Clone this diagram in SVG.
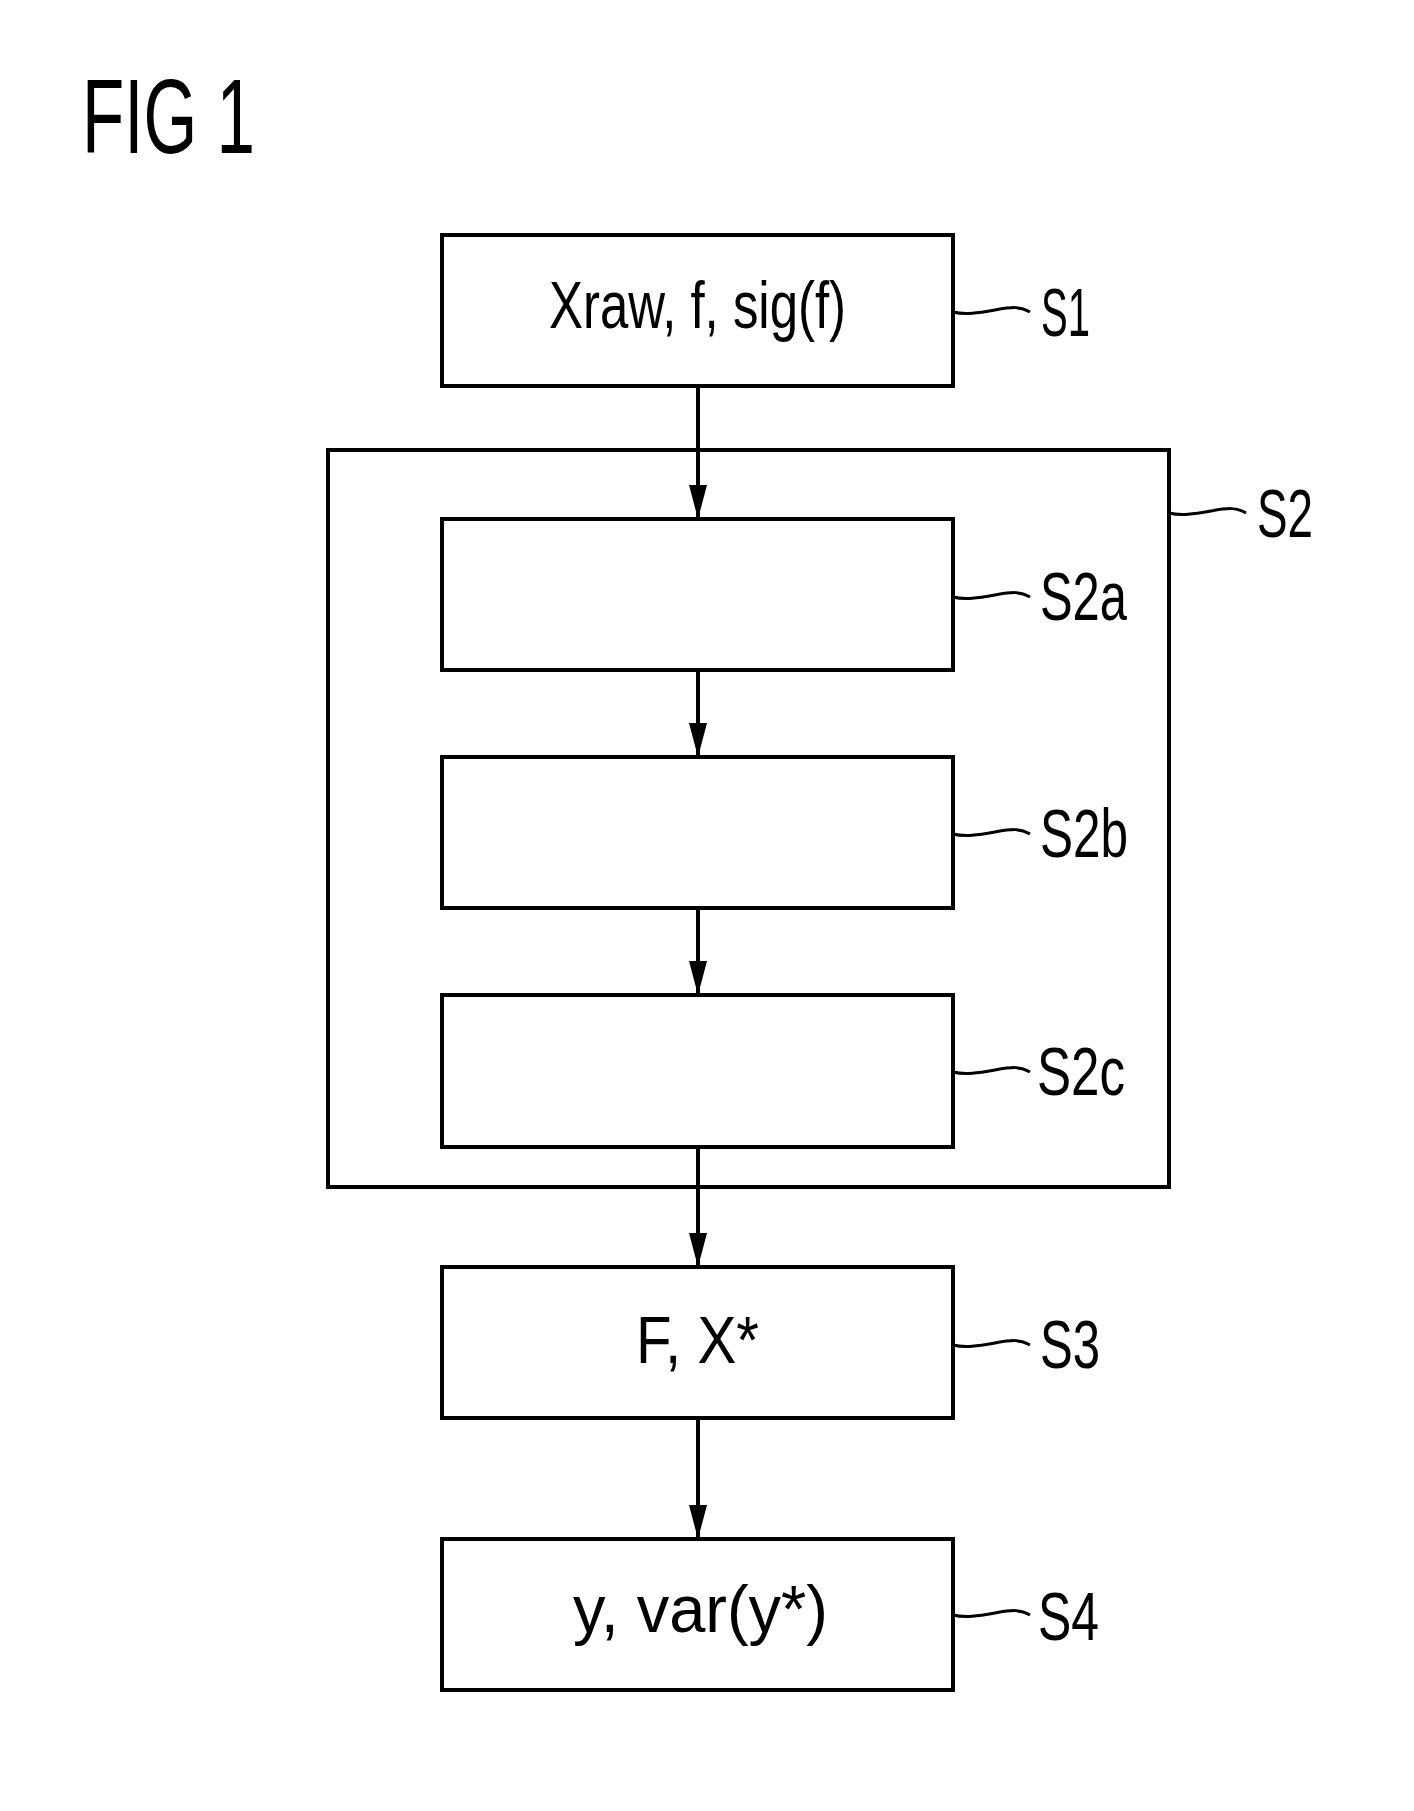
<svg xmlns="http://www.w3.org/2000/svg" width="1414" height="1811" viewBox="0 0 1414 1811">
<style>
  .box{fill:#fff;stroke:#000;stroke-width:4}
  .frame{fill:none;stroke:#000;stroke-width:4}
  .conn{stroke:#000;stroke-width:4;fill:none}
  .lead{stroke:#000;stroke-width:3;fill:none}
  .t{font-family:"Liberation Sans",Arial,sans-serif;font-size:66px;fill:#000}
  .lbl{font-family:"Liberation Sans",Arial,sans-serif;font-size:68px;fill:#000}
  .title{font-family:"Liberation Sans",Arial,sans-serif;font-size:106px;fill:#000}
</style>
<defs>
  <marker id="arr" viewBox="0 0 34 18" refX="34" refY="9" markerWidth="34" markerHeight="18" markerUnits="userSpaceOnUse" orient="auto">
    <path d="M0,0 L34,9 L0,18 Z" fill="#000"/>
  </marker>
</defs>
<rect width="1414" height="1811" fill="#fff"/>
<text class="title" x="82" y="153" textLength="173" lengthAdjust="spacingAndGlyphs">FIG 1</text>

<g id="S2">
  <rect class="frame" x="328" y="450" width="841" height="737"/>
  <path class="lead" d="M1169,513 c12,3 25,1 42,-2 s25,-4 35,2"/>
  <text class="lbl" x="1257" y="537" textLength="56" lengthAdjust="spacingAndGlyphs">S2</text>
</g>

<g id="connectors">
  <line class="conn" x1="698" y1="386" x2="698" y2="519" marker-end="url(#arr)"/>
  <line class="conn" x1="698" y1="670" x2="698" y2="757" marker-end="url(#arr)"/>
  <line class="conn" x1="698" y1="908" x2="698" y2="995" marker-end="url(#arr)"/>
  <line class="conn" x1="698" y1="1147" x2="698" y2="1267" marker-end="url(#arr)"/>
  <line class="conn" x1="698" y1="1418" x2="698" y2="1539" marker-end="url(#arr)"/>
</g>

<g id="S1">
  <rect class="box" x="442" y="235" width="511" height="151"/>
  <text class="t" x="549" y="328" textLength="297" lengthAdjust="spacingAndGlyphs">Xraw, f, sig(f)</text>
  <path class="lead" d="M953,312 c12,3 25,1 42,-2 s25,-4 35,2"/>
  <text class="lbl" x="1041" y="336" textLength="49" lengthAdjust="spacingAndGlyphs">S1</text>
</g>

<g id="S2a">
  <rect class="box" x="442" y="519" width="511" height="151"/>
  <path class="lead" d="M953,597 c12,3 25,1 42,-2 s25,-4 35,2"/>
  <text class="lbl" x="1040" y="620" textLength="87" lengthAdjust="spacingAndGlyphs">S2a</text>
</g>

<g id="S2b">
  <rect class="box" x="442" y="757" width="511" height="151"/>
  <path class="lead" d="M953,834 c12,3 25,1 42,-2 s25,-4 35,2"/>
  <text class="lbl" x="1040" y="857" textLength="88" lengthAdjust="spacingAndGlyphs">S2b</text>
</g>

<g id="S2c">
  <rect class="box" x="442" y="995" width="511" height="152"/>
  <path class="lead" d="M953,1072 c12,3 25,1 42,-2 s25,-4 35,2"/>
  <text class="lbl" x="1037" y="1095" textLength="88" lengthAdjust="spacingAndGlyphs">S2c</text>
</g>

<g id="S3">
  <rect class="box" x="442" y="1267" width="511" height="151"/>
  <text class="t" x="636" y="1363" font-size="68" textLength="123" lengthAdjust="spacingAndGlyphs">F, X*</text>
  <path class="lead" d="M953,1345 c12,3 25,1 42,-2 s25,-4 35,2"/>
  <text class="lbl" x="1040" y="1368" textLength="60" lengthAdjust="spacingAndGlyphs">S3</text>
</g>

<g id="S4">
  <rect class="box" x="442" y="1539" width="511" height="151"/>
  <text class="t" x="573" y="1632" textLength="255" lengthAdjust="spacingAndGlyphs">y, var(y*)</text>
  <path class="lead" d="M953,1615 c12,3 25,1 42,-2 s25,-4 35,2"/>
  <text class="lbl" x="1038" y="1640" textLength="61" lengthAdjust="spacingAndGlyphs">S4</text>
</g>
</svg>
